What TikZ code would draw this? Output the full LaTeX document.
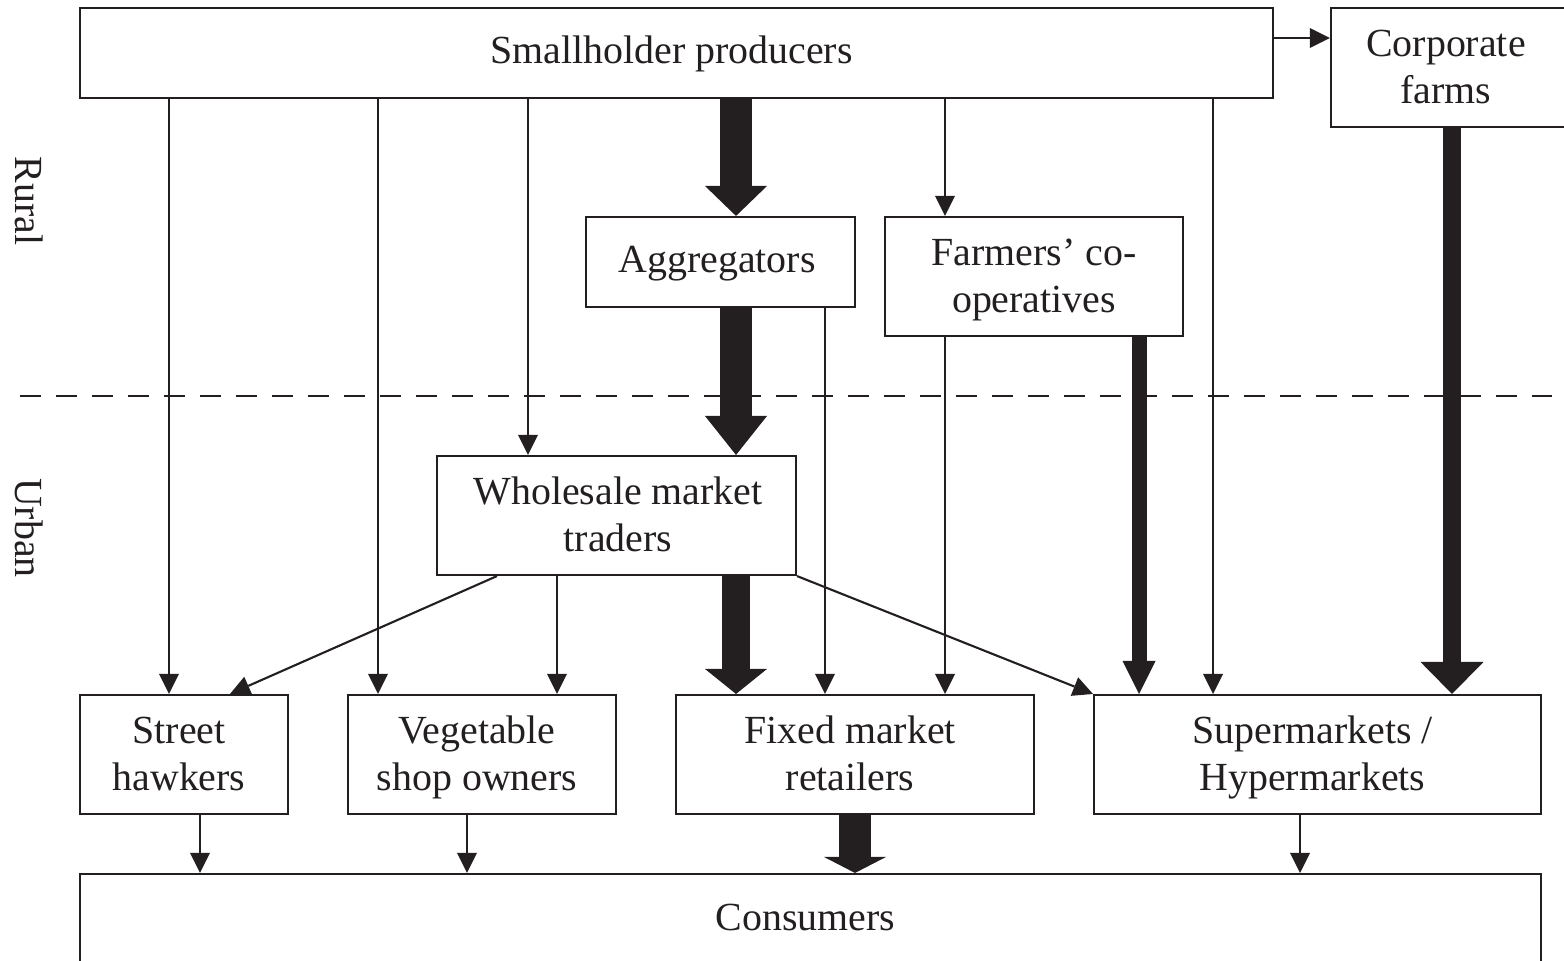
\documentclass[tikz,border=0pt]{standalone}
\usepackage{fontspec}
\setmainfont{Liberation Serif}
\usetikzlibrary{arrows.meta}
\definecolor{ink}{RGB}{35,31,32}
\tikzset{
  box/.style={draw=ink, line width=1.2pt, rectangle, inner sep=0pt},
  txt/.style={text=ink, inner sep=0pt, align=center, font=\fontsize{22.7}{26.8}\selectfont},
  lbl/.style={text=ink, inner sep=0pt, font=\fontsize{22.7}{26.8}\selectfont},
  thinarrow/.style={draw=ink, line width=1.2pt,
    -{Triangle[length=0.4cm,width=0.4cm,line width=0pt]}},
  fatarrow/.style n args={3}{draw=ink, line width=#1,
    -{Triangle[length=#2,width=#3,line width=0pt]}},
  dashline/.style={draw=ink, line width=1.1pt, dash pattern=on 0.42cm off 0.3cm}
}
\begin{document}
\begin{tikzpicture}[x=0.02cm, y=-0.02cm]
\useasboundingbox (0,0) rectangle (1564,960);

% boxes
\node[box, minimum width=23.86cm, minimum height=1.8cm] (sp) at (676.5,53) {};
\node[box, minimum width=4.72cm, minimum height=2.38cm] (cf) at (1449,67.5) {};
\node[box, minimum width=5.38cm, minimum height=1.8cm] (ag) at (720.5,262) {};
\node[box, minimum width=5.96cm, minimum height=2.38cm] (fc) at (1034,276.5) {};
\node[box, minimum width=7.18cm, minimum height=2.38cm] (ws) at (616.5,515.5) {};
\node[box, minimum width=4.16cm, minimum height=2.38cm] (sh) at (184,754.5) {};
\node[box, minimum width=5.36cm, minimum height=2.38cm] (vs) at (482,754.5) {};
\node[box, minimum width=7.16cm, minimum height=2.38cm] (fm) at (855,754.5) {};
\node[box, minimum width=8.94cm, minimum height=2.38cm] (sm) at (1317.5,754.5) {};
\node[box, minimum width=29.22cm, minimum height=1.84cm] (co) at (810.5,920) {};

% box texts
\node[txt] (sp-t) at (671.5,54) {\strut Smallholder producers};
\node[txt] (cf-t) at (1446,70.5) {\strut Corporate\\\strut farms};
\node[txt] (ag-t) at (717,263) {\strut Aggregators};
\node[txt] (fc-t) at (1034,279.5) {\strut Farmers’ co-\\\strut operatives};
\node[txt] (ws-t) at (618,518.5) {\strut Wholesale market\\\strut traders};
\node[txt] (sh-t) at (179,757.5) {\strut Street\\\strut hawkers};
\node[txt] (vs-t) at (477,757.5) {\strut Vegetable\\\strut shop owners};
\node[txt] (fm-t) at (850,757.5) {\strut Fixed market\\\strut retailers};
\node[txt] (sm-t) at (1312.5,757.5) {\strut Supermarkets /\\\strut Hypermarkets};
\node[txt] (co-t) at (805.5,921) {\strut Consumers};

% side labels
\node[lbl, rotate=-90] (rural) at (29,201) {Rural};
\node[lbl, rotate=-90] (urban) at (29,528) {Urban};

% rural/urban divider
\draw[dashline] (20,396) -- (1552,396);

% x positions of vertical connectors
\coordinate (x169) at (169,0);
\coordinate (x378) at (378,0);
\coordinate (x528) at (528,0);
\coordinate (x945) at (945,0);
\coordinate (x1213) at (1213,0);
\coordinate (x825) at (825,0);
\coordinate (x557) at (557,0);
\coordinate (x200) at (200,0);
\coordinate (x467) at (467,0);
\coordinate (x1300) at (1300,0);
\coordinate (x736) at (736,0);
\coordinate (x855) at (855,0);
\coordinate (x1139) at (1139,0);
\coordinate (x1452) at (1452,0);
\coordinate (y38) at (0,38);
\coordinate (wsa) at (497,575);
\coordinate (sha) at (230,695);

% thin connectors
\draw[thinarrow] (sp.east |- y38) -- (cf.west |- y38);
\draw[thinarrow] (sp.south -| x169) -- (sh.north -| x169);
\draw[thinarrow] (sp.south -| x378) -- (vs.north -| x378);
\draw[thinarrow] (sp.south -| x528) -- (ws.north -| x528);
\draw[thinarrow] (sp.south -| x945) -- (fc.north -| x945);
\draw[thinarrow] (sp.south -| x1213) -- (sm.north -| x1213);
\draw[thinarrow] (ag.south -| x825) -- (fm.north -| x825);
\draw[thinarrow] (fc.south -| x945) -- (fm.north -| x945);
\draw[thinarrow] (ws.south -| wsa) -- (sh.north -| sha);
\draw[thinarrow] (ws.south -| x557) -- (vs.north -| x557);
\draw[thinarrow] (ws.south east) -- (sm.north west);
\draw[thinarrow] (sh.south -| x200) -- (co.north -| x200);
\draw[thinarrow] (vs.south -| x467) -- (co.north -| x467);
\draw[thinarrow] (sm.south -| x1300) -- (co.north -| x1300);

% thick connectors
\draw[fatarrow={0.64cm}{0.6cm}{1.24cm}] (sp.south -| x736) -- (ag.north -| x736);
\draw[fatarrow={0.64cm}{0.78cm}{1.24cm}] (ag.south -| x736) -- (ws.north -| x736);
\draw[fatarrow={0.56cm}{0.5cm}{1.24cm}] (ws.south -| x736) -- (fm.north -| x736);
\draw[fatarrow={0.64cm}{0.32cm}{1.24cm}] (fm.south -| x855) -- (co.north -| x855);
\draw[fatarrow={0.3cm}{0.66cm}{0.66cm}] (fc.south -| x1139) -- (sm.north -| x1139);
\draw[fatarrow={0.36cm}{0.64cm}{1.26cm}] (cf.south -| x1452) -- (sm.north -| x1452);
\end{tikzpicture}
\end{document}
